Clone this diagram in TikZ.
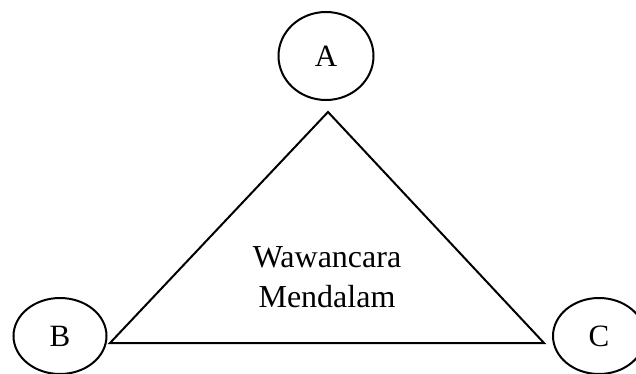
\documentclass[tikz,border=0pt]{standalone}
\usepackage{fontspec}
\setmainfont{Liberation Serif}
\usetikzlibrary{shapes.geometric}
\begin{document}
\begin{tikzpicture}[x=1pt,y=-1pt,
  party/.style={draw,line width=2pt,ellipse,inner sep=0pt,font=\fontsize{31}{35}\selectfont},
  lbl/.style={font=\fontsize{32}{36}\selectfont,inner sep=0pt,anchor=base}]
\useasboundingbox (0,0) rectangle (636,374);
\node[party,minimum width=95pt,minimum height=88pt] (A) at (326,56) {A};
\node[party,minimum width=93pt,minimum height=76pt] (B) at (60,336) {B};
\node[party,minimum width=92pt,minimum height=76pt] (C) at (599,336) {C};
\coordinate (top) at (328,112);
\coordinate (left) at (110,343);
\coordinate (right) at (544,343);
\draw[line width=2pt,line join=miter] (top) -- (left) -- (right) -- cycle;
\node[lbl] (t1) at (327,267) {Wawancara};
\node[lbl] (t2) at (327,307) {Mendalam};
\end{tikzpicture}
\end{document}
